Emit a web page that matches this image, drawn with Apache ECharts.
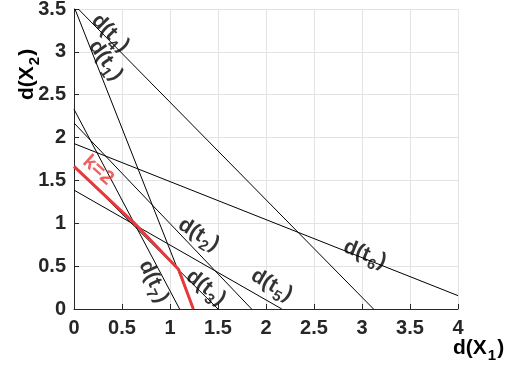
<!DOCTYPE html>
<html>
<head>
<meta charset="utf-8">
<script src="https://cdn.jsdelivr.net/npm/echarts@6/dist/echarts.min.js"></script>
<style>
  html, body { margin: 0; padding: 0; background: #fff; }
  #chart { width: 517px; height: 367px; }
</style>
</head>
<body>
<div id="chart"></div>
<script>
// end points of each line d(t_i)
const lineT1 = [[0.01, 3.5], [1.243, 0]]
const lineT2 = [[0, 2.17], [1.85, 0]]
const lineT3 = [[0, 1.665], [1.5, 0]]
const lineT4 = [[0.045, 3.5], [3.12, 0]]
const lineT5 = [[0, 1.387], [2.165, 0]]
const lineT6 = [[0, 1.93], [4, 0.156]]
const lineT7 = [[0, 2.33], [1.1, 0]]
// k = 2 envelope
const redPath = [[0, 1.665], [0.63, 1.0], [1.09, 0.46], [1.243, 0]]

// label anchors [x, y, subscript, rotation]
const labelPos = [
  [0.38, 3.22, '4', -45],
  [0.33, 2.9, '1', -55],
  [1.3, 0.87, '2', -32],
  [0.83, 0.32, '7', -65],
  [1.375, 0.25, '3', -38],
  [2.06, 0.28, '5', -30],
  [3.03, 0.64, '6', -22]
]
const kLabel = [0.25, 1.62]

const allLines = [lineT1, lineT2, lineT3, lineT4, lineT5, lineT6, lineT7]

const chart = echarts.init(document.getElementById('chart'))

const textColor = '#262626'
const fontFam = '"Liberation Sans", Arial, sans-serif'

const richText = {
  a: { fontSize: 21, fontWeight: 'bold', color: '#000', fontFamily: fontFam, lineHeight: 30 },
  s: { fontSize: 15, fontWeight: 'bold', color: '#000', fontFamily: fontFam, lineHeight: 30, padding: [15, 1, 0, 1] }
}

const lineSeries = allLines.map(pts => ({
  type: 'line',
  data: pts,
  symbol: 'none',
  silent: true,
  lineStyle: { color: '#000', width: 1 },
  z: 3
}))

const labelSeries = labelPos.map(p => ({
  type: 'scatter',
  data: [[p[0], p[1]]],
  symbolSize: 0,
  silent: true,
  z: 5,
  label: {
    show: true,
    position: 'inside',
    rotate: p[3],
    formatter: '{a|d(t}{s|' + p[2] + '}{a|)}',
    rich: richText
  }
}))

const option = {
  animation: false,
  grid: { left: 74, right: 59, top: 9, bottom: 58, outerBoundsMode: 'none', containLabel: false },
  graphic: [
    {
      type: 'text',
      left: 453,
      top: 333,
      style: { text: '{a|d(X}{s|1}{a|)}', rich: richText }
    },
    {
      type: 'text',
      x: 12,
      y: 100,
      rotation: Math.PI / 2,
      style: { text: '{a|d(X}{s|2}{a|)}', rich: richText, align: 'left', verticalAlign: 'top' }
    }
  ],
  xAxis: {
    type: 'value',
    min: 0,
    max: 4,
    interval: 0.5,
    axisLine: { show: true, lineStyle: { color: '#262626', width: 1 } },
    axisTick: { show: true, inside: true, length: 5, lineStyle: { color: '#262626' } },
    axisLabel: { color: textColor, fontSize: 20, fontWeight: 'bold', fontFamily: fontFam, margin: 9, formatter: v => String(v) },
    splitLine: { show: true, lineStyle: { color: '#e3e3e3', width: 1 } }
  },
  yAxis: {
    type: 'value',
    min: 0,
    max: 3.5,
    interval: 0.5,
    axisLine: { show: true, lineStyle: { color: '#262626', width: 1 } },
    axisTick: { show: true, inside: true, length: 5, lineStyle: { color: '#262626' } },
    axisLabel: { color: textColor, fontSize: 20, fontWeight: 'bold', fontFamily: fontFam, margin: 8, formatter: v => String(v) },
    splitLine: { show: true, lineStyle: { color: '#e3e3e3', width: 1 } }
  },
  series: [
    ...lineSeries,
    {
      type: 'line',
      data: redPath,
      symbol: 'none',
      silent: true,
      lineStyle: { color: '#e8393a', width: 3 },
      z: 4
    },
    ...labelSeries,
    {
      type: 'scatter',
      data: [kLabel],
      symbolSize: 0,
      silent: true,
      z: 5,
      label: {
        show: true,
        position: 'inside',
        rotate: -42,
        formatter: 'k=2',
        color: '#e8393a',
        fontSize: 20,
        fontWeight: 'bold',
        fontFamily: fontFam
      }
    }
  ]
}

chart.setOption(option)
</script>
</body>
</html>
